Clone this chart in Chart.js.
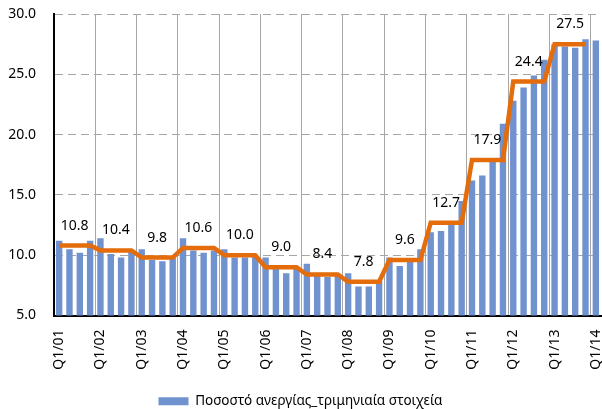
<!DOCTYPE html>
<html>
<head>
<meta charset="utf-8">
<script src="https://cdn.jsdelivr.net/npm/chart.js@4.4.0/dist/chart.umd.min.js"></script>
<style>
  html, body { margin: 0; padding: 0; background: #ffffff; }
  #wrap { width: 602px; height: 409px; }
</style>
</head>
<body>
<div id="wrap"><canvas id="chart" width="602" height="409"></canvas></div>
<script>
// years shown on the axis (Q1/01 ... Q1/14)
const years = ['01', '02', '03', '04', '05', '06', '07', '08', '09', '10', '11', '12', '13', '14'];
// quarterly unemployment rate (%), Q1/01 .. Q1/14
const quarterlyRate = [
  11.2, 10.5, 10.2, 11.2,
  11.4, 10.1, 9.8, 10.3,
  10.5, 9.6, 9.5, 9.8,
  11.4, 10.4, 10.2, 10.4,
  10.5, 9.8, 9.8, 9.9,
  9.8, 9.1, 8.5, 9.0,
  9.3, 8.5, 8.2, 8.3,
  8.5, 7.4, 7.4, 7.9,
  9.8, 9.1, 9.5, 10.5,
  11.9, 12.0, 12.6, 14.5,
  16.2, 16.6, 18.0, 20.9,
  22.8, 23.9, 24.9, 26.2,
  27.5, 27.3, 27.2, 27.9,
  27.8
];
// yearly average, 2001 .. 2013
const annualAvg = [10.8, 10.4, 9.8, 10.6, 10.0, 9.0, 8.4, 7.8, 9.6, 12.7, 17.9, 24.4, 27.5];
const seriesName = 'Ποσοστό ανεργίας_τριμηνιαία στοιχεία';

const labels = [];
years.forEach(y => { for (let q = 1; q <= 4; q++) labels.push('Q' + q + '/' + y); });
labels.length = quarterlyRate.length;
// step line: each year's average held over its four quarters
const stepLine = labels.map((l, i) => i < annualAvg.length * 4 ? annualAvg[Math.floor(i / 4)] : null);

const FONT = 'Noto Sans';

// yearly average labels, centred over each year
const avgLabels = {
  id: 'avgLabels',
  afterDatasetsDraw(chart) {
    const ctx = chart.ctx;
    const xs = chart.scales.x, ys = chart.scales.y;
    ctx.save();
    ctx.font = '14px "' + FONT + '"';
    ctx.fillStyle = '#000000';
    ctx.textAlign = 'center';
    ctx.textBaseline = 'middle';
    annualAvg.forEach((v, k) => {
      const x = (xs.getPixelForValue(4 * k + 1) + xs.getPixelForValue(4 * k + 2)) / 2;
      const y = ys.getPixelForValue(v) - 20;
      ctx.fillText(v.toFixed(1), x, y);
    });
    ctx.restore();
  }
};

new Chart(document.getElementById('chart'), {
  data: {
    labels: labels,
    datasets: [
      {
        type: 'line',
        label: 'avg',
        data: stepLine,
        borderColor: '#E46C0A',
        borderWidth: 4.5,
        pointRadius: 0,
        tension: 0,
        fill: false,
        order: 0
      },
      {
        type: 'bar',
        label: seriesName,
        data: quarterlyRate,
        backgroundColor: '#7092CE',
        categoryPercentage: 1.0,
        barPercentage: 0.62,
        order: 1
      }
    ]
  },
  options: {
    responsive: false,
    devicePixelRatio: 1,
    animation: false,
    layout: { padding: { top: 14, right: 1, left: 0, bottom: -9 } },
    plugins: {
      tooltip: { enabled: false },
      legend: {
        position: 'bottom',
        labels: {
          filter: item => item.datasetIndex === 1,
          boxWidth: 30,
          boxHeight: 8,
          padding: 2,
          color: '#000000',
          font: { family: FONT, size: 13.5 }
        }
      }
    },
    scales: {
      x: {
        offset: true,
        afterFit: s => { s.height = 77; s.paddingLeft = 0; s.paddingRight = 0; },
        grid: {
          offset: true,
          drawTicks: false,
          lineWidth: 1,
          color: c => (c.type === 'tick' && c.index % 4 === 0 && c.index > 0) ? '#A6A6A6' : 'rgba(0,0,0,0)'
        },
        border: { display: true, color: '#000000', width: 2 },
        ticks: {
          autoSkip: false,
          maxRotation: 90,
          minRotation: 90,
          padding: 14,
          color: '#000000',
          font: { family: FONT, size: 14 },
          callback: (v, i) => i % 4 === 0 ? labels[i] : ''
        }
      },
      y: {
        min: 5,
        max: 30,
        afterFit: s => { s.width = 54; s.paddingTop = 0; s.paddingBottom = 0; },
        afterBuildTicks: s => { s.ticks = [5, 10, 15, 20, 25, 30].map(v => ({ value: v })); },
        grid: {
          drawTicks: false,
          color: c => c.tick && c.tick.value === 5 ? 'rgba(0,0,0,0)' : '#A6A6A6'
        },
        border: { display: true, color: '#000000', width: 2, dash: [8, 5] },
        ticks: {
          padding: 18,
          color: '#000000',
          font: { family: FONT, size: 14 },
          callback: v => Number(v).toFixed(1)
        }
      }
    }
  },
  plugins: [avgLabels]
});
</script>
</body>
</html>
